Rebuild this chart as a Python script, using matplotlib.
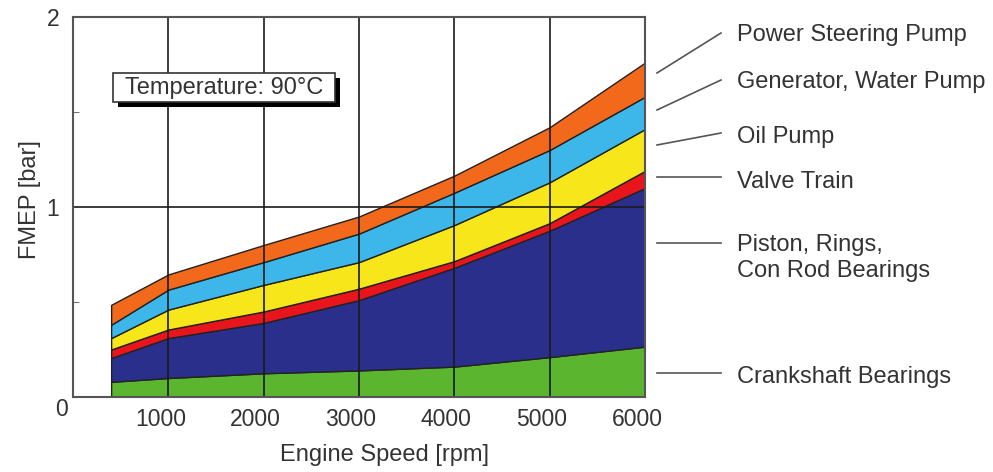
import matplotlib
matplotlib.use("Agg")
from matplotlib import pyplot as plt
from matplotlib.patches import Rectangle
from matplotlib.lines import Line2D
import matplotlib.transforms as mtransforms

# engine speed [rpm]
speed = [400, 1000, 2000, 3000, 4000, 5000, 6000]

# FMEP contributions [bar], bottom to top
crankshaft = [0.08, 0.10, 0.125, 0.14, 0.16, 0.21, 0.265]
piston = [0.125, 0.21, 0.265, 0.37, 0.52, 0.665, 0.835]
valve_train = [0.045, 0.045, 0.06, 0.06, 0.035, 0.04, 0.09]
oil_pump = [0.06, 0.105, 0.14, 0.14, 0.19, 0.215, 0.22]
generator = [0.07, 0.105, 0.12, 0.15, 0.17, 0.17, 0.17]
power_steering = [0.105, 0.08, 0.09, 0.09, 0.09, 0.12, 0.18]

labels = ["Crankshaft Bearings", "Piston, Rings,\nCon Rod Bearings", "Valve Train",
          "Oil Pump", "Generator, Water Pump", "Power Steering Pump"]
colors = ["#5bb52f", "#2b2f8c", "#e8161c", "#f6e61a", "#3db6ea", "#f2691c"]

x_ticks = [1000, 2000, 3000, 4000, 5000, 6000]

plt.rcParams['font.family'] = ['Liberation Sans', 'DejaVu Sans']
W, H = 993, 472
fig = plt.figure(figsize=(W / 100, H / 100), dpi=100)
ax = fig.add_axes([73 / W, 1 - 397 / H, (645 - 73) / W, (397 - 17) / H])

ax.stackplot(speed, crankshaft, piston, valve_train, oil_pump, generator, power_steering,
             colors=colors, edgecolor="#222222", linewidth=1.0, zorder=1)

ax.set_xlim(0, 6000)
ax.set_ylim(0, 2)

for xv in x_ticks[:-1]:
    ax.axvline(xv, color="#1a1a1a", lw=1.2, zorder=3)
ax.axhline(1, color="#1a1a1a", lw=1.2, zorder=3)

for s in ax.spines.values():
    s.set_color("#555555")
    s.set_linewidth(1.5)
    s.set_zorder(4)

txt = "#333333"
ax.set_xticks(x_ticks)
ax.set_yticks([1, 2])
ax.set_yticks([0.5, 1.5], minor=True)
ax.tick_params(axis="both", which="major", length=0, labelsize=16.5, labelcolor=txt, pad=8)
ax.tick_params(axis="y", which="minor", direction="in", length=4, color="#555555")
shift = mtransforms.ScaledTranslation(-8 / 100, 0, fig.dpi_scale_trans)
for lab in ax.get_xticklabels():
    lab.set_transform(lab.get_transform() + shift)
ax.tick_params(axis="y", pad=10)

fig.text(62 / W, 1 - 410 / H, "0", ha="center", va="center", fontsize=16.5, color=txt)
fig.text(385 / W, 1 - 455 / H, "Engine Speed [rpm]", ha="center", va="center",
         fontsize=17, color=txt)
fig.text(30 / W, 1 - 200 / H, "FMEP [bar]", ha="center", va="center", rotation=90,
         fontsize=17, color=txt)

# temperature box with shadow
def px(x, y):
    return x / W, 1 - y / H

fig.add_artist(Rectangle(px(118, 107), 222 / W, 29 / H, transform=fig.transFigure,
                         facecolor="black", edgecolor="none", zorder=5))
fig.add_artist(Rectangle(px(113, 102), 222 / W, 29 / H, transform=fig.transFigure,
                         facecolor="white", edgecolor="#333333", lw=1.2, zorder=6))
fig.text(224 / W, 1 - 88 / H, "Temperature: 90°C", ha="center", va="center",
         fontsize=17, color=txt, zorder=7)

# leader lines and labels on the right
leaders = [(373, 373, 377), (243, 243, 258), (177, 177, 182),
           (145, 133, 137), (110, 80, 82), (73, 33, 35)]
for (y0, y1, ty), lab in zip(leaders, labels):
    x0, yy0 = px(657, y0)
    x1, yy1 = px(721, y1)
    fig.add_artist(Line2D([x0, x1], [yy0, yy1], transform=fig.transFigure,
                          color="#555555", lw=1.2))
    fig.text(737 / W, 1 - ty / H, lab, ha="left", va="center", fontsize=17,
             color=txt, linespacing=1.25)

fig.savefig("out.png", dpi=100)
